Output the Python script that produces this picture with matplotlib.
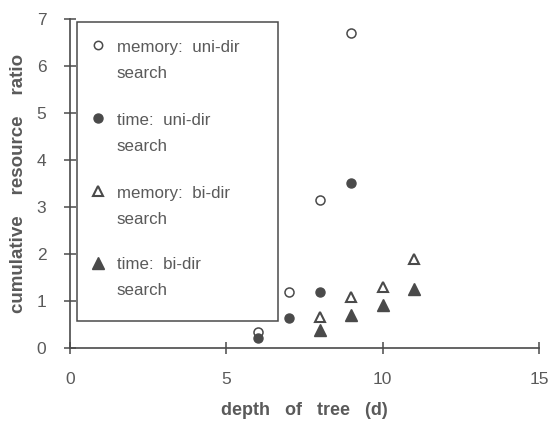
import matplotlib.pyplot as plt

# data
depth_mem_uni = [6, 7, 8, 9]
mem_uni = [0.35, 1.19, 3.15, 6.7]

depth_time_uni = [6, 7, 8, 9]
time_uni = [0.22, 0.64, 1.19, 3.51]

depth_mem_bi = [8, 9, 10, 11]
mem_bi = [0.66, 1.09, 1.30, 1.89]

depth_time_bi = [8, 9, 10, 11]
time_bi = [0.38, 0.70, 0.91, 1.25]

x_ticks = [0, 5, 10, 15]
y_ticks = [0, 1, 2, 3, 4, 5, 6, 7]

legend_labels = ["memory:  uni-dir\nsearch", "time:  uni-dir\nsearch",
                 "memory:  bi-dir\nsearch", "time:  bi-dir\nsearch"]

plt.rcParams['font.family'] = ['Liberation Sans', 'DejaVu Sans']
text_col = '#5a5a5a'
mark_col = '#4a4a4a'

fig = plt.figure(figsize=(5.51, 4.25), dpi=100)
ax = fig.add_axes([0.127, 0.181, 0.851, 0.774])

ax.plot(depth_mem_uni, mem_uni, 'o', mfc='white', mec=mark_col, mew=1.1, ms=6.5, clip_on=False)
ax.plot(depth_time_uni, time_uni, 'o', color=mark_col, ms=6.5, clip_on=False)
ax.plot(depth_mem_bi, mem_bi, '^', mfc='white', mec=mark_col, mew=1.5, ms=7.5, clip_on=False)
ax.plot(depth_time_bi, time_bi, '^', color=mark_col, ms=8, clip_on=False)

ax.set_xlim(0, 15)
ax.set_ylim(0, 7)
ax.set_xticks(x_ticks)
ax.set_yticks(y_ticks)
ax.spines['top'].set_visible(False)
ax.spines['right'].set_visible(False)
for s in ['left', 'bottom']:
    ax.spines[s].set_color(mark_col)
    ax.spines[s].set_linewidth(1.2)
ax.tick_params(direction='inout', length=8, width=1.1, color=mark_col,
               labelcolor=text_col, labelsize=12.5)
ax.tick_params(axis='x', pad=13)
ax.tick_params(axis='y', pad=13)

ax.set_xlabel("depth   of   tree   (d)", fontsize=13, fontweight='bold',
              color=text_col, labelpad=11)
ax.set_ylabel("cumulative    resource    ratio", fontsize=13.5, fontweight='bold',
              color=text_col, labelpad=7)

# legend box drawn by hand, marker beside first line of each label
box = plt.Rectangle((0.015, 0.082), 0.428, 0.909, transform=ax.transAxes,
                    fill=False, ec=mark_col, lw=1.1, clip_on=False)
ax.add_patch(box)
row_y = [0.912, 0.690, 0.468, 0.252]
styles = [dict(marker='o', mfc='white', mec=mark_col, mew=1.1, ms=6),
          dict(marker='o', mfc=mark_col, mec=mark_col, ms=6.5),
          dict(marker='^', mfc='white', mec=mark_col, mew=1.5, ms=7),
          dict(marker='^', mfc=mark_col, mec=mark_col, ms=8)]
for y, lab, st in zip(row_y, legend_labels, styles):
    ax.plot([0.06], [y + 0.008], linestyle='none', transform=ax.transAxes,
            clip_on=False, **st)
    ax.text(0.10, y + 0.026, lab, transform=ax.transAxes, fontsize=12.2,
            color=text_col, va='top', ha='left', linespacing=1.95)

fig.savefig('out.png', dpi=100, facecolor='white')
